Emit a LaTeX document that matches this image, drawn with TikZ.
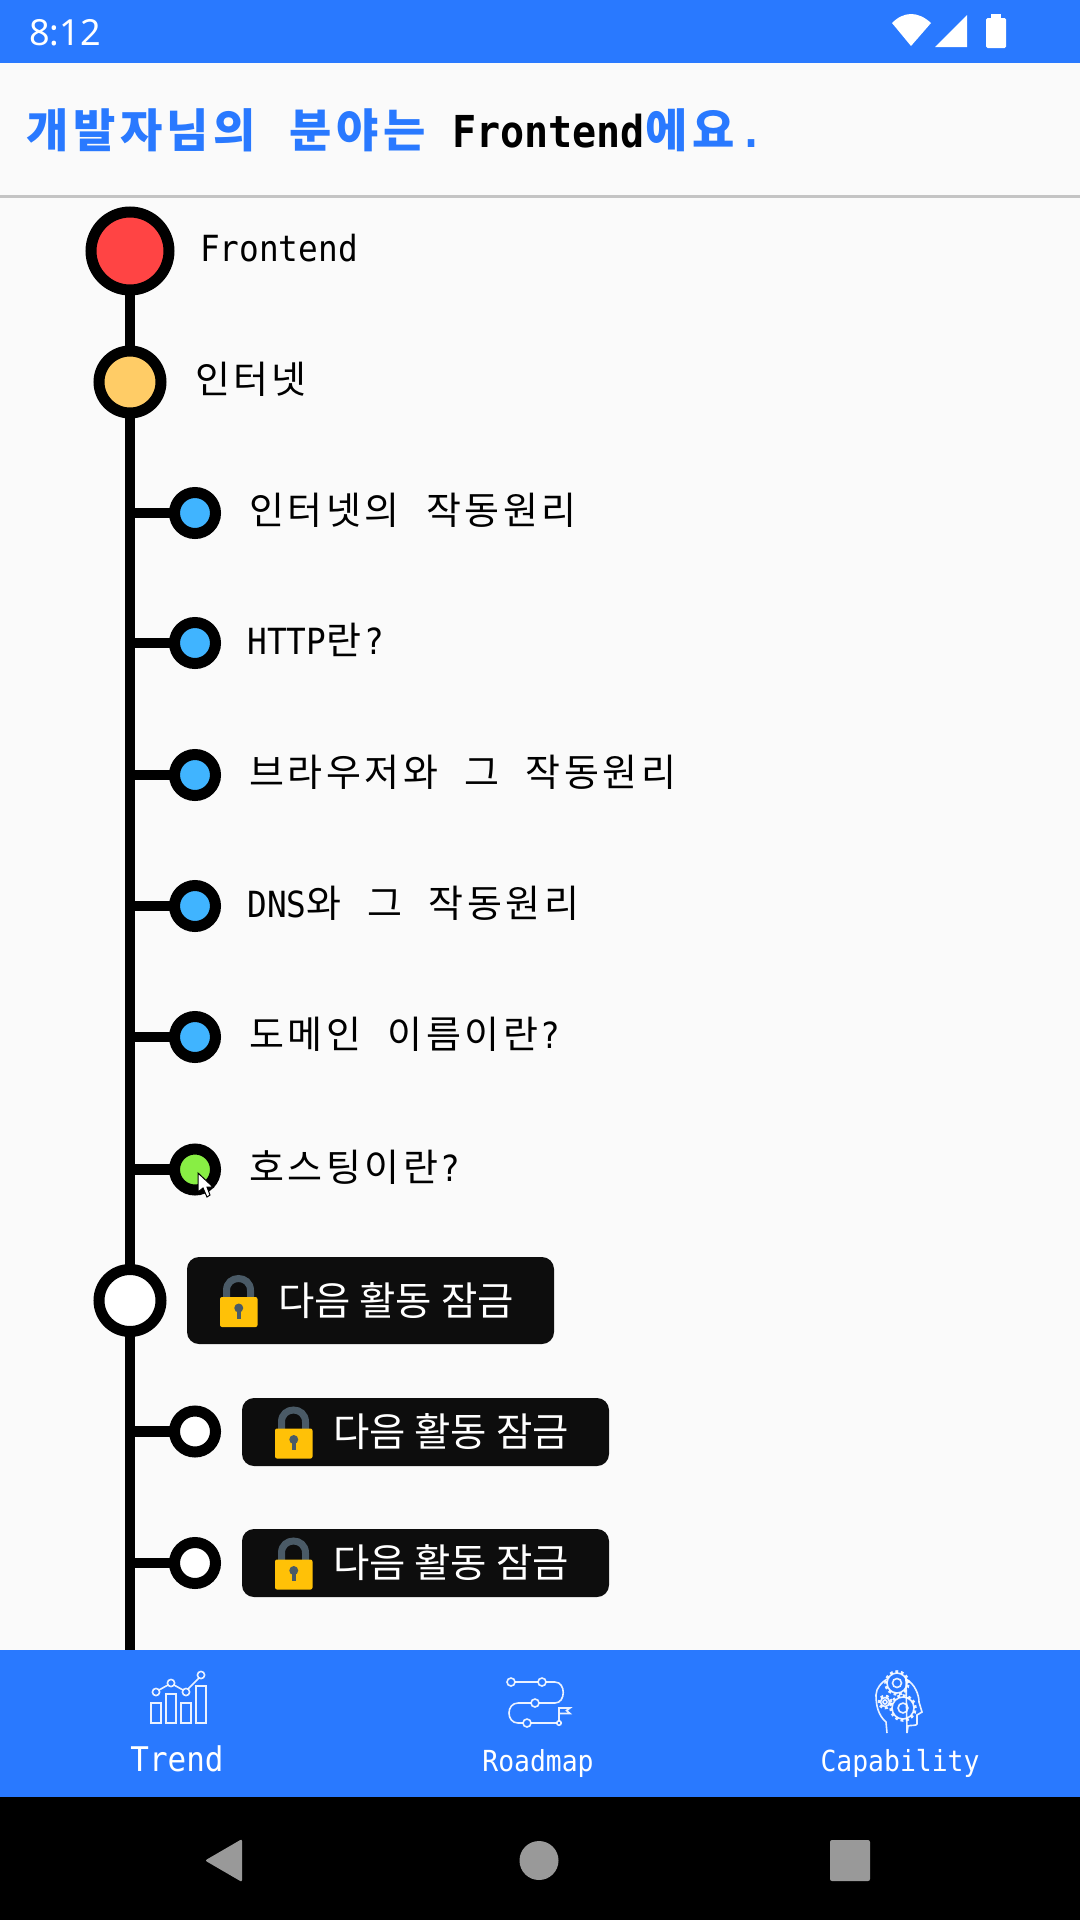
\documentclass[tikz,border=0pt]{standalone}
\usepackage{fontspec}
\usepackage{tikz}
\usetikzlibrary{positioning,shapes.geometric}

\setmainfont[FakeStretch=0.91]{DejaVu Sans Mono}
\newfontfamily\hgfont[LetterSpace=9.3,WordSpace=2.17]{Noto Sans CJK KR}
\newfontfamily\hgtitlefont[LetterSpace=10,WordSpace=2.2]{Noto Sans CJK KR}
\newfontfamily\plainhgfont{Noto Sans CJK KR}
\newfontfamily\clockfont{Noto Sans}
\newcommand{\hg}[1]{{\hgfont #1}}
\newcommand{\hgt}[1]{{\hgtitlefont\bfseries\fontsize{46}{52}\selectfont #1}}

\definecolor{barblue}{HTML}{2979FF}
\definecolor{pagegray}{HTML}{FAFAFA}
\definecolor{rulegray}{HTML}{C4C4C4}
\definecolor{navgray}{HTML}{999999}
\definecolor{boxblack}{HTML}{0D0D0D}
\definecolor{dotred}{HTML}{FF4444}
\definecolor{dotorange}{HTML}{FFCC66}
\definecolor{dotblue}{HTML}{40B4FF}
\definecolor{dotgreen}{HTML}{88EE44}
\definecolor{lockgold}{HTML}{FFC107}
\definecolor{lockslate}{HTML}{4A5A66}

\begin{document}
\begin{tikzpicture}
        [
            x = 1pt, y = -1pt,
            dot/.style = {circle, draw = black, line width = 11pt, inner sep = 0pt, outer sep = 0pt, fill = white},
            rootdot/.style = {dot, minimum size = 78pt},
            bigdot/.style = {dot, minimum size = 62pt},
            smalldot/.style = {dot, minimum size = 41pt},
            spine/.style = {draw = black, line width = 10.5pt},
            label/.style = {inner sep = 0pt, outer sep = 0pt, text height = 28pt, text depth = 0pt, yshift = 2.5pt, font = \fontsize{36}{44}\selectfont},
            lockbox/.style = {fill = boxblack, rounded corners = 12pt, minimum width = 367pt, inner sep = 0pt, outer sep = 0pt},
            locktext/.style = {inner sep = 0pt, outer sep = 0pt, text = white, font = \plainhgfont\fontsize{39.5}{46}\selectfont},
            tabtext/.style = {inner sep = 0pt, text = white},
            icon/.style = {draw = white, line width = 1.6pt, opacity = .9},
            lockicon/.pic = {
                \draw[lockslate, line width = 7pt] (39.5,-3) -- (39.5,-10) .. controls (39.5,-26) and (63.5,-26) .. (63.5,-10) -- (63.5,-3);
                \fill[lockgold, rounded corners = 2pt] (33,-3.5) rectangle (70.5,26.5);
                \fill[lockslate] (51.75,7.5) circle[radius = 4.5pt];
                \fill[lockslate] (50,8) rectangle (53.5,18);
            },
            gear/.pic = {
                \draw[icon] (0,0) circle[radius = #1 pt];
                \draw[icon, line width = 2.6pt, dash pattern = on 2.8pt off 2.8pt] (0,0) circle[radius = #1 pt + 1.5pt];
                \draw[icon] (0,0) circle[radius = #1 * 0.45 pt];
            },
        ]

        \useasboundingbox (0,0) rectangle (1080,1920);
        \fill[pagegray] (0,0) rectangle (1080,1920);
        \fill[barblue] (0,0) rectangle (1080,63);
        \fill[rulegray] (0,194.5) rectangle (1080,197.5);
        \fill[barblue] (0,1650) rectangle (1080,1797);
        \fill[black] (0,1797) rectangle (1080,1920);

        \node[inner sep = 0pt, anchor = west, text = white, font = \clockfont\fontsize{36}{40}\selectfont] (clock) at (29,33) {8:12};
        \fill[white] (911,46) -- (892,23) .. controls (904,11) and (918,11) .. (931,23) -- cycle;
        \fill[white] (935,47) -- (967,15) -- (967,47) -- cycle;
        \fill[white, rounded corners = 1.5pt] (986,18) rectangle (1006,48);
        \fill[white] (991,14) rectangle (1001,20);

        \node[inner sep = 0pt, anchor = west, font = \bfseries\fontsize{44}{52}\selectfont] (title) at (26,130)
            {\textcolor{barblue}{\hgt{개발자님의 분야는}}\hspace{2.5pt} Frontend\textcolor{barblue}{\hgt{에요}\hspace{5pt}.}};

        \node[rootdot, fill = dotred] (root) at (130,251) {};
        \node[bigdot, fill = dotorange] (net) at (130,382) {};
        \node[smalldot, fill = dotblue] (howinternet) at (195,513) {};
        \node[smalldot, fill = dotblue] (http) at (195,643) {};
        \node[smalldot, fill = dotblue] (browser) at (195,775) {};
        \node[smalldot, fill = dotblue] (dns) at (195,906) {};
        \node[smalldot, fill = dotblue] (domain) at (195,1037) {};
        \node[smalldot, fill = dotgreen] (hosting) at (195,1169.5) {};
        \node[bigdot] (locka) at (130,1300.5) {};
        \node[smalldot] (lockb) at (195,1431.5) {};
        \node[smalldot] (lockc) at (195,1563) {};
        \coordinate (spineend) at (130,1650);

        \draw[spine] (root) -- (net);
        \draw[spine] (net) -- (locka);
        \draw[spine] (locka) -- (spineend);
        \draw[spine] (spineend |- howinternet) -- (howinternet);
        \draw[spine] (spineend |- http) -- (http);
        \draw[spine] (spineend |- browser) -- (browser);
        \draw[spine] (spineend |- dns) -- (dns);
        \draw[spine] (spineend |- domain) -- (domain);
        \draw[spine] (spineend |- hosting) -- (hosting);
        \draw[spine] (spineend |- lockb) -- (lockb);
        \draw[spine] (spineend |- lockc) -- (lockc);

        \node[label, right = 31pt of root, yshift = 1pt] (roottext) {Frontend};
        \node[label, right = 34pt of net] (nettext) {\hg{\fontsize{38}{44}\selectfont 인터넷}};
        \node[label, right = 34pt of howinternet] (howinternettext) {\hg{\fontsize{38}{44}\selectfont 인터넷의 작동원리}};
        \node[label, right = 32pt of http] (httptext) {HTTP\hg{\fontsize{38}{44}\selectfont 란}\hspace{3pt}?};
        \node[label, right = 34pt of browser] (browsertext) {\hg{\fontsize{38}{44}\selectfont 브라우저와 그 작동원리}};
        \node[label, right = 32pt of dns] (dnstext) {DNS\hg{\fontsize{38}{44}\selectfont 와 그 작동원리}};
        \node[label, right = 34pt of domain] (domaintext) {\hg{\fontsize{38}{44}\selectfont 도메인 이름이란}\hspace{2pt}?};
        \node[label, right = 34pt of hosting] (hostingtext) {\hg{\fontsize{38}{44}\selectfont 호스팅이란}\hspace{2pt}?};

        \filldraw[fill = white, draw = black, line width = 1pt] (198,1173) -- (198,1192) -- (203,1188) -- (207,1197) -- (210,1195) -- (207,1187) -- (213,1187) -- cycle;

        \node[lockbox, minimum height = 87pt] (boxa) at (370.5,1300.5) {};
        \node[lockbox, minimum height = 68pt] (boxb) at (425.5,1432) {};
        \node[lockbox, minimum height = 68pt] (boxc) at (425.5,1563) {};
        \pic at (boxa.west) {lockicon};
        \pic at (boxb.west) {lockicon};
        \pic at (boxc.west) {lockicon};
        \node[locktext, right = 91pt of boxa.west] (boxatext) {다음 활동 잠금};
        \node[locktext, right = 91pt of boxb.west] (boxbtext) {다음 활동 잠금};
        \node[locktext, right = 91pt of boxc.west] (boxctext) {다음 활동 잠금};

        \draw[icon] (151,1703) rectangle (161,1723);
        \draw[icon] (166,1694) rectangle (176,1723);
        \draw[icon] (181,1703) rectangle (191,1723);
        \draw[icon] (196,1686) rectangle (206,1723);
        \draw[icon] (156,1692) circle[radius = 3.6pt] (171,1683) circle[radius = 3.6pt] (186,1692) circle[radius = 3.6pt] (201,1675) circle[radius = 3.6pt];
        \draw[icon] (159,1690) -- (168,1685) (174,1685) -- (183,1690) (188,1689) -- (199,1678);
        \node[tabtext, font = \fontsize{34}{40}\selectfont] (trend) at (177,1759) {Trend};

        \draw[icon] (511,1682) circle[radius = 4pt] (542,1682) circle[radius = 4pt] (535,1703) circle[radius = 4pt] (527,1723) circle[radius = 4pt] (559,1723) circle[radius = 2.2pt];
        \draw[icon] (515,1682) -- (538,1682) (546,1682) -- (555,1682) .. controls (566,1682) and (566,1703) .. (555,1703) -- (539,1703) (531,1703) -- (518,1703) .. controls (506,1703) and (506,1723) .. (518,1723) -- (523,1723) (531,1723) -- (557,1723);
        \draw[icon] (559,1721) -- (559,1708) -- (570,1708) -- (566.5,1710.5) -- (570,1713.5) -- (559,1713.5);
        \node[tabtext, font = \fontsize{29}{34}\selectfont] (roadmap) at (538,1763) {Roadmap};

        \draw[icon] (887,1733) -- (886,1722) .. controls (878,1715) and (876,1705) .. (876,1695) .. controls (876,1688) and (882,1682) .. (887,1679) (906,1679) .. controls (915,1684) and (919,1695) .. (919,1702) -- (922,1712) -- (917,1715) -- (917,1724) .. controls (917,1726) and (909,1725) .. (908,1726) -- (907,1733) -- cycle;
        \pic at (897,1683) {gear = 10};
        \pic at (903,1708) {gear = 11};
        \pic at (885,1702) {gear = 4.5};
        \node[tabtext, font = \fontsize{29}{34}\selectfont] (capability) at (900,1763) {Capability};

        \fill[navgray, rounded corners = 2pt] (242,1839) -- (242,1882) -- (205,1860.5) -- cycle;
        \fill[navgray] (539,1860.5) circle[radius = 19.5pt];
        \fill[navgray, rounded corners = 2pt] (830,1840) rectangle (870,1881);

    \end{tikzpicture}
\end{document}
